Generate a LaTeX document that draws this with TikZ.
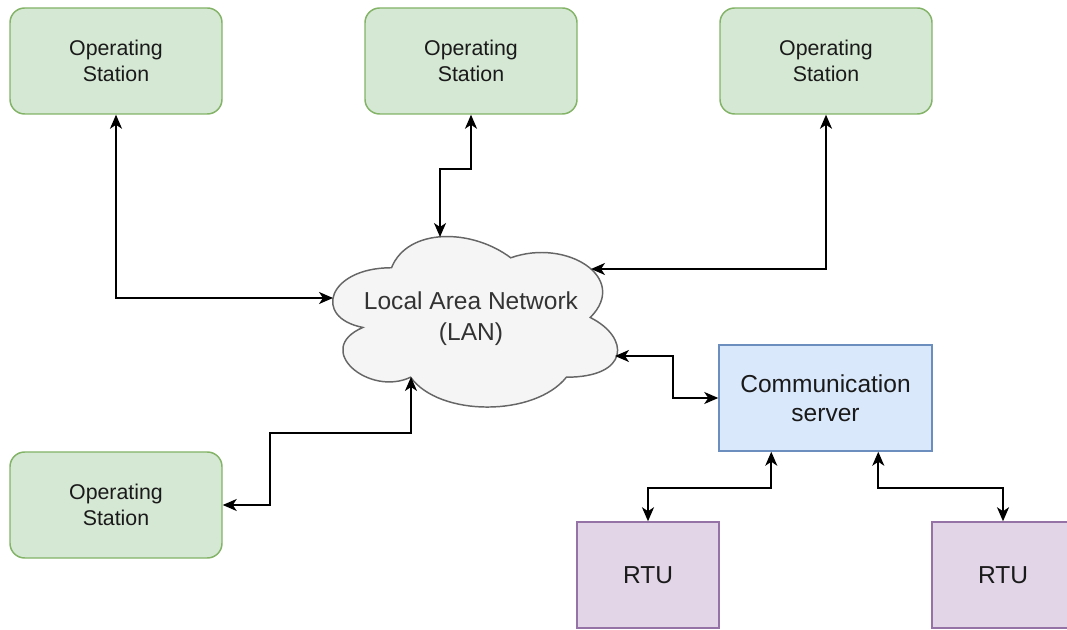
\documentclass[tikz,border=0pt]{standalone}
\usepackage{fontspec}
\setmainfont{Liberation Sans}
\usetikzlibrary{arrows.meta,calc}
\definecolor{osfill}{HTML}{D5E8D4}
\definecolor{osdraw}{HTML}{82B366}
\definecolor{csfill}{HTML}{DAE8FC}
\definecolor{csdraw}{HTML}{6C8EBF}
\definecolor{rtufill}{HTML}{E1D5E7}
\definecolor{rtudraw}{HTML}{9673A6}
\definecolor{cloudfill}{HTML}{F5F5F5}
\definecolor{clouddraw}{HTML}{666666}
\definecolor{cloudtext}{HTML}{333333}
\definecolor{textdark}{HTML}{1A1A1A}
\tikzset{
  osbox/.style={draw=osdraw, fill=osfill, line width=1.1pt, rounded corners=11pt,
    minimum width=159pt, minimum height=79.5pt, inner sep=0pt, align=center,
    text=textdark, font=\fontsize{16}{20}\selectfont},
  csbox/.style={draw=csdraw, fill=csfill, line width=1.1pt,
    minimum width=159.75pt, minimum height=79.5pt, inner sep=0pt, align=center,
    text=textdark, font=\fontsize{18.4}{21.75}\selectfont},
  rtubox/.style={draw=rtudraw, fill=rtufill, line width=1.1pt,
    minimum width=106.5pt, minimum height=79.5pt, inner sep=0pt, align=center,
    text=textdark, font=\fontsize{18.4}{21.75}\selectfont},
  cloudtxt/.style={inner sep=0pt, align=center, text=cloudtext,
    font=\fontsize{18.4}{23}\selectfont},
  conn/.style={line width=1.4pt, {Stealth[length=10.5pt,width=9pt,inset=3pt]}-{Stealth[length=10.5pt,width=9pt,inset=3pt]}}
}
\begin{document}
\begin{tikzpicture}[x=0.75pt,y=-0.75pt]
\useasboundingbox (0,0) rectangle (1067,630);
% cloud
\draw[fill=cloudfill, draw=clouddraw, line width=1.1pt]
  (391.5,267.75) .. controls (327.9,267.75) and (312,317.5) .. (362.88,327.45)
  .. controls (312,349.34) and (369.24,397.1) .. (410.58,377.2)
  .. controls (439.2,417) and (534.6,417) .. (566.4,377.2)
  .. controls (630,377.2) and (630,337.4) .. (590.25,317.5)
  .. controls (630,277.7) and (566.4,237.9) .. (510.75,257.8)
  .. controls (471,227.95) and (407.4,227.95) .. (391.5,267.75) -- cycle;
\node[cloudtxt] (lan) at (471,318.5) {Local Area Network\\(LAN)};
\coordinate (lanW) at (333,298);
\coordinate (lanN) at (440,237);
\coordinate (lanNE) at (591,269);
\coordinate (lanE) at (615,356);
\coordinate (lanS) at (411,377);
% boxes
\node[osbox] (os1) at (116,61) {Operating\\Station};
\node[osbox] (os2) at (471,61) {Operating\\Station};
\node[osbox] (os3) at (826,61) {Operating\\Station};
\node[osbox] (os4) at (116,505) {Operating\\Station};
\node[csbox] (comm) at (825.5,398) {Communication\\server};
\node[rtubox] (rtu1) at (648,575) {RTU};
\node[rtubox] (rtu2) at (1003,575) {RTU};
% connectors
\draw[conn] (os1.south) |- (lanW);
\draw[conn] (os2.south) -- ++(0,54) -| (lanN);
\draw[conn] (os3.south) |- (lanNE);
\draw[conn] (lanE) -- ++(58,0) |- (comm.west);
\draw[conn] (lanS) -- ++(0,56) -| ($(os4.east)+(47,0)$) -- (os4.east);
\coordinate (c1) at ($(comm.south west)+(53,0)$);
\coordinate (c2) at ($(comm.south west)+(160,0)$);
\draw[conn] (c1) -- ++(0,36) -| (rtu1.north);
\draw[conn] (c2) -- ++(0,36) -| (rtu2.north);
\end{tikzpicture}
\end{document}
